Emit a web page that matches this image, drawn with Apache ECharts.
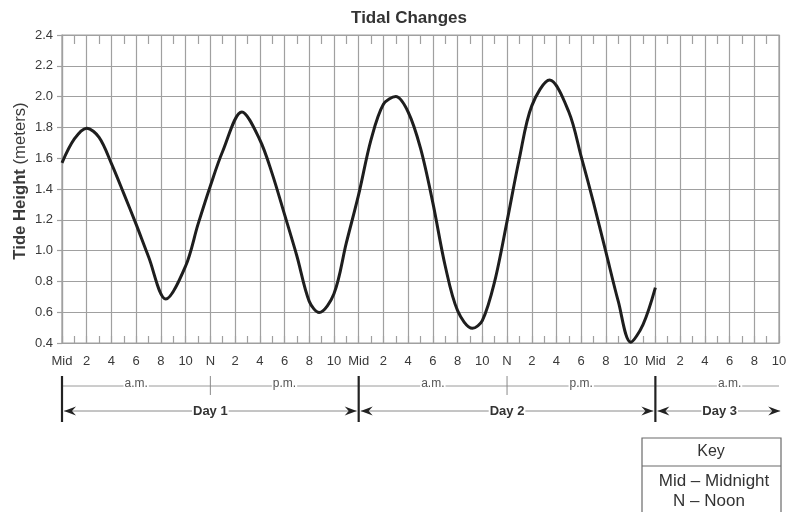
<!DOCTYPE html>
<html><head><meta charset="utf-8">
<script src="https://cdn.jsdelivr.net/npm/echarts@6/dist/echarts.min.js"></script>
<style>html,body{margin:0;padding:0;background:#fff}#c{width:797px;height:512px}</style>
</head><body><div id="c"></div>
<script>
const chartTitle = 'Tidal Changes';
const yAxisNameBold = 'Tide Height';
const yAxisNameUnit = '(meters)';
const hours   = [0, 1, 2, 3, 4, 5, 6, 7, 8.4, 10, 11, 12, 13, 14.55, 16, 17, 18, 19, 20, 20.8, 22, 23, 24, 25, 26, 27, 28, 29, 30, 31, 32, 33.2, 34, 35, 36, 37, 38, 39.45, 41, 42, 43, 44, 45, 46, 47, 48];
const heights = [1.57, 1.725, 1.795, 1.735, 1.565, 1.37, 1.17, 0.96, 0.685, 0.90, 1.17, 1.42, 1.645, 1.90, 1.72, 1.50, 1.235, 0.965, 0.67, 0.598, 0.72, 1.05, 1.365, 1.72, 1.95, 2.00, 1.90, 1.665, 1.31, 0.90, 0.61, 0.495, 0.545, 0.80, 1.19, 1.60, 1.94, 2.107, 1.90, 1.61, 1.31, 0.99, 0.67, 0.405, 0.52, 0.76];
const xTickLabels = ['Mid','2','4','6','8','10','N','2','4','6','8','10','Mid','2','4','6','8','10','N','2','4','6','8','10','Mid','2','4','6','8','10'];
const periodLabels = ['a.m.','p.m.','a.m.','p.m.','a.m.'];
const periodCenters = [6, 18, 30, 42, 54];
const noonHours = [12, 36];
const midnightHours = [0, 24, 48];
const dayLabels = ['Day 1','Day 2','Day 3'];
const dayCenters = [12, 36, 53.2];
const day3End = 58.1;
const keyTitle = 'Key';
const keyLines = ['Mid \u2013 Midnight', 'N \u2013 Noon'];

const FONT = '"Liberation Sans", Arial, Helvetica, sans-serif';
const gridColor = '#a0a0a0';
const textColor = '#3a3a3a';

const chart = echarts.init(document.getElementById('c'), null, {renderer: 'canvas'});
const option = {
  backgroundColor: '#ffffff',
  animation: false,
  grid: {left: 62, right: 18, top: 35, bottom: 169, show: true, borderColor: gridColor, borderWidth: 1.2, containLabel: false},
  xAxis: [
    {
      type: 'value', min: 0, max: 58, interval: 2, position: 'bottom',
      axisLine: {show: true, lineStyle: {color: gridColor, width: 1.2}},
      axisTick: {show: true, inside: true, length: 7, lineStyle: {color: gridColor, width: 1.2}},
      minorTick: {show: true, splitNumber: 2, length: 7, lineStyle: {color: gridColor, width: 1.2}},
      splitLine: {show: true, lineStyle: {color: gridColor, width: 1.2}},
      axisLabel: {
        formatter: v => xTickLabels[Math.round(v / 2)],
        fontFamily: FONT, fontSize: 13, color: textColor, margin: 12,
        showMinLabel: true, showMaxLabel: true
      }
    },
    {
      type: 'value', min: 0, max: 58, interval: 2, position: 'top',
      axisLine: {show: true, lineStyle: {color: gridColor, width: 1.2}},
      axisTick: {show: false, inside: true},
      minorTick: {show: true, splitNumber: 2, length: 9, lineStyle: {color: gridColor, width: 1.2}},
      splitLine: {show: false},
      axisLabel: {show: false}
    }
  ],
  yAxis: {
    type: 'value', min: 0.4, max: 2.4, interval: 0.2,
    axisLine: {show: true, lineStyle: {color: gridColor, width: 1.2}},
    axisTick: {show: true, length: 5, lineStyle: {color: gridColor, width: 1.2}},
    splitLine: {show: true, lineStyle: {color: gridColor, width: 1.2}},
    axisLabel: {formatter: v => v.toFixed(1), fontFamily: FONT, fontSize: 13, color: textColor, margin: 9},
    name: '{b|' + yAxisNameBold + '} {n|' + yAxisNameUnit + '}',
    nameLocation: 'middle', nameGap: 33, nameRotate: 90, nameMoveOverlap: false,
    nameTextStyle: {
      fontFamily: FONT, fontSize: 16.7, color: textColor, padding: [0, 0, 0, 16],
      rich: {
        b: {fontFamily: FONT, fontSize: 16.7, fontWeight: 'bold', color: textColor},
        n: {fontFamily: FONT, fontSize: 16.7, color: textColor}
      }
    }
  },
  series: [{
    type: 'line',
    data: hours.map((h, i) => [h, heights[i]]),
    smooth: 0.33,
    showSymbol: false,
    lineStyle: {color: '#1e1e1e', width: 3},
    z: 5
  }]
};
chart.setOption(option);

function px(h) { return chart.convertToPixel({xAxisIndex: 0}, h); }
const yBottom = chart.convertToPixel({yAxisIndex: 0}, 0.4);
const periodY = yBottom + 43;
const dayY = yBottom + 68;
const barTop = yBottom + 33;
const barBottom = yBottom + 79;
const xStart = px(0), xEnd = px(58);

const g = [];
g.push({type: 'text', x: 409, y: 18, style: {text: chartTitle, textAlign: 'center', textVerticalAlign: 'middle', font: 'bold 17px ' + FONT, fill: '#333'}});
g.push({type: 'line', shape: {x1: xStart, y1: periodY, x2: xEnd, y2: periodY}, style: {stroke: '#9a9a9a', lineWidth: 1}});
periodLabels.forEach((t, i) => {
  g.push({type: 'text', x: px(periodCenters[i]), y: periodY - 2, z: 10, style: {text: t, textAlign: 'center', textVerticalAlign: 'middle', font: '12px ' + FONT, fill: '#555', backgroundColor: '#fff', padding: [1, 1]}});
});
noonHours.forEach(h => {
  g.push({type: 'line', shape: {x1: px(h), y1: barTop, x2: px(h), y2: barTop + 19}, style: {stroke: '#8a8a8a', lineWidth: 1}});
});
midnightHours.forEach(h => {
  g.push({type: 'line', z: 12, shape: {x1: px(h), y1: barTop, x2: px(h), y2: barBottom}, style: {stroke: '#222', lineWidth: 2.2}});
});
function arrow(tip, dir) {
  const L = 12, W = 4.5, N = 8;
  return {type: 'polygon', z: 11, shape: {points: [[tip, dayY], [tip - dir * L, dayY - W], [tip - dir * N, dayY], [tip - dir * L, dayY + W]]}, style: {fill: '#222'}};
}
const dayBounds = [[0, 24], [24, 48], [48, day3End]];
dayBounds.forEach((b, i) => {
  const a = px(b[0]) + 2, c = px(b[1]) - (i < 2 ? 2 : 0);
  g.push({type: 'line', shape: {x1: a, y1: dayY, x2: c, y2: dayY}, style: {stroke: '#8a8a8a', lineWidth: 1}});
  g.push(arrow(a, -1));
  g.push(arrow(c, 1));
  g.push({type: 'text', x: px(dayCenters[i]), y: dayY, z: 10, style: {text: dayLabels[i], textAlign: 'center', textVerticalAlign: 'middle', font: 'bold 13px ' + FONT, fill: '#333', backgroundColor: '#fff', padding: [1, 1]}});
});
g.push({type: 'rect', shape: {x: 642, y: 438, width: 139, height: 90}, style: {stroke: '#6a6a6a', lineWidth: 1.2, fill: '#fff'}});
g.push({type: 'line', shape: {x1: 642, y1: 466, x2: 781, y2: 466}, style: {stroke: '#6a6a6a', lineWidth: 1.2}});
g.push({type: 'text', x: 711, y: 452, style: {text: keyTitle, textAlign: 'center', textVerticalAlign: 'middle', font: '16px ' + FONT, fill: '#333'}});
g.push({type: 'text', x: 714, y: 481, style: {text: keyLines[0], textAlign: 'center', textVerticalAlign: 'middle', font: '17px ' + FONT, fill: '#333'}});
g.push({type: 'text', x: 709, y: 501, style: {text: keyLines[1], textAlign: 'center', textVerticalAlign: 'middle', font: '17px ' + FONT, fill: '#333'}});

chart.setOption({graphic: {elements: g}});
</script>
</body></html>
